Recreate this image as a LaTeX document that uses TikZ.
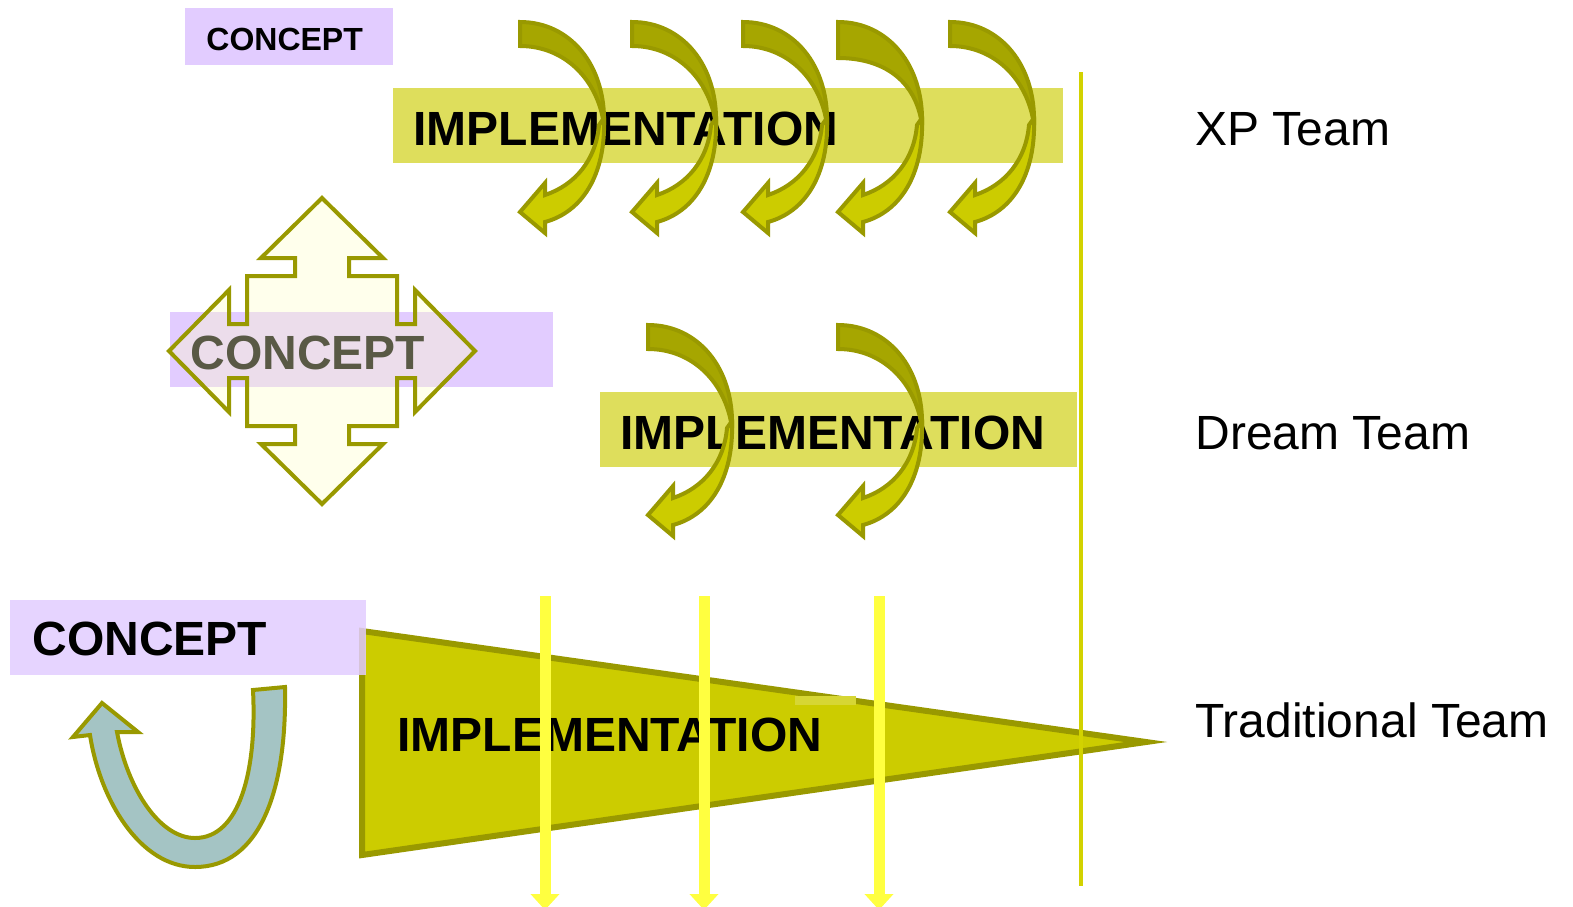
\documentclass[tikz,border=0pt]{standalone}
\usepackage{fontspec}
\setmainfont{Liberation Sans}
\usetikzlibrary{arrows.meta}

\definecolor{lavender}{RGB}{226,204,255}
\definecolor{barfill}{RGB}{222,222,92}
\definecolor{oliveline}{RGB}{153,153,0}
\definecolor{darkarrow}{RGB}{166,166,0}
\definecolor{lightarrow}{RGB}{204,204,0}
\definecolor{cream}{RGB}{255,255,200}
\definecolor{loopfill}{RGB}{164,196,196}
\definecolor{dropyellow}{RGB}{255,255,64}
\definecolor{dividerline}{RGB}{210,210,0}
\definecolor{patchfill}{RGB}{214,214,52}

% curled iteration arrow, #1,#2 = top left corner of the tail, #3 = tail thickness
\newcommand{\bendarrow}[3]{%
  \begin{scope}[shift={(#1,#2)}]
    \filldraw[outline, fill=darkarrow] (0,0) .. controls (50,0) and (86,43) .. (84,103)
      .. controls (78,58) and (45,#3) .. (0,#3) -- cycle;
    \filldraw[outline, fill=lightarrow] (84,96) .. controls (86,153) and (62,190) .. (25,200)
      -- (25,211) -- (0,190) -- (25,161) -- (25,173)
      .. controls (55,163) and (76,138) .. (79,103) -- cycle;
  \end{scope}}

\begin{document}
\begin{tikzpicture}[
    x=0.5pt, y=-0.5pt,
    conceptbox/.style={fill=lavender},
    bar/.style={fill=barfill},
    bigword/.style={anchor=base west, inner sep=0pt, font=\fontsize{24}{28}\selectfont\bfseries},
    teamname/.style={anchor=base west, inner sep=0pt, font=\fontsize{24}{28}\selectfont},
    outline/.style={draw=oliveline, line width=2pt, line join=miter},
    droparrow/.style={draw=dropyellow, line width=5.5pt, -{Triangle[width=14pt,length=8pt]}}
]
    \useasboundingbox (0,0) rectangle (1573,906);

    % XP team
    \fill[conceptbox] (185,8) rectangle (393,65);
    \node[anchor=base west, inner sep=0pt, font=\fontsize{16}{19}\selectfont\bfseries] (concepttop) at (206,50) {CONCEPT};
    \fill[bar] (393,88) rectangle (1063,163);
    \node[bigword] (impltop) at (413,145) {IMPLEMENTATION};
    \foreach \x/\t in {520/24, 632/24, 743/24, 838/36, 950/24}
        \bendarrow{\x}{22}{\t};
    \node[teamname] (xpteam) at (1195,145) {XP Team};

    % Dream team
    \fill[conceptbox] (170,312) rectangle (553,387);
    \node[bigword] (conceptmid) at (190,369) {CONCEPT};
    \filldraw[outline, fill=cream, fill opacity=0.35, shift={(322,351)}]
        (0,-153) -- (61,-93) -- (27,-93) -- (27,-75) -- (75,-75) -- (75,-27) -- (93,-27) -- (93,-61)
        -- (153,0) -- (93,61) -- (93,27) -- (75,27) -- (75,75) -- (27,75) -- (27,93) -- (61,93)
        -- (0,153) -- (-61,93) -- (-27,93) -- (-27,75) -- (-75,75) -- (-75,27) -- (-93,27) -- (-93,61)
        -- (-153,0) -- (-93,-61) -- (-93,-27) -- (-75,-27) -- (-75,-75) -- (-27,-75) -- (-27,-93) -- (-61,-93) -- cycle;
    \fill[bar] (600,392) rectangle (1077,467);
    \node[bigword] (implmid) at (620,449) {IMPLEMENTATION};
    \foreach \x in {648, 838}
        \bendarrow{\x}{325}{24};
    \node[teamname] (dreamteam) at (1195,449) {Dream Team};

    % Traditional team
    \filldraw[draw=oliveline, line width=3pt, fill=lightarrow] (362,631) -- (1146,742) -- (362,855) -- cycle;
    \fill[patchfill] (795,696) rectangle (856,705);
    \fill[conceptbox, fill opacity=0.85] (10,600) rectangle (366,675);
    \node[bigword] (conceptlow) at (32,655) {CONCEPT};
    \filldraw[outline, fill=loopfill] (253,690) -- (285,687)
        .. controls (287,790) and (260,867) .. (195,867)
        .. controls (140,867) and (100,800) .. (90,735)
        -- (73,737) -- (102,703) -- (138,732) -- (117,732)
        .. controls (128,790) and (160,838) .. (195,838)
        .. controls (240,838) and (257,770) .. (253,690) -- cycle;
    \node[bigword] (impllow) at (397,751) {IMPLEMENTATION};
    \foreach \x [count=\i] in {545, 704, 879} {
        \coordinate (drop\i top) at (\x,596);
        \coordinate (drop\i end) at (\x,910);
        \draw[droparrow] (drop\i top) -- (drop\i end);
    }
    \node[teamname] (tradteam) at (1195,737) {Traditional Team};

    % deadline
    \coordinate (deadtop) at (1081,72);
    \coordinate (deadend) at (1081,886);
    \draw[dividerline, line width=2pt] (deadtop) -- (deadend);
\end{tikzpicture}
\end{document}
